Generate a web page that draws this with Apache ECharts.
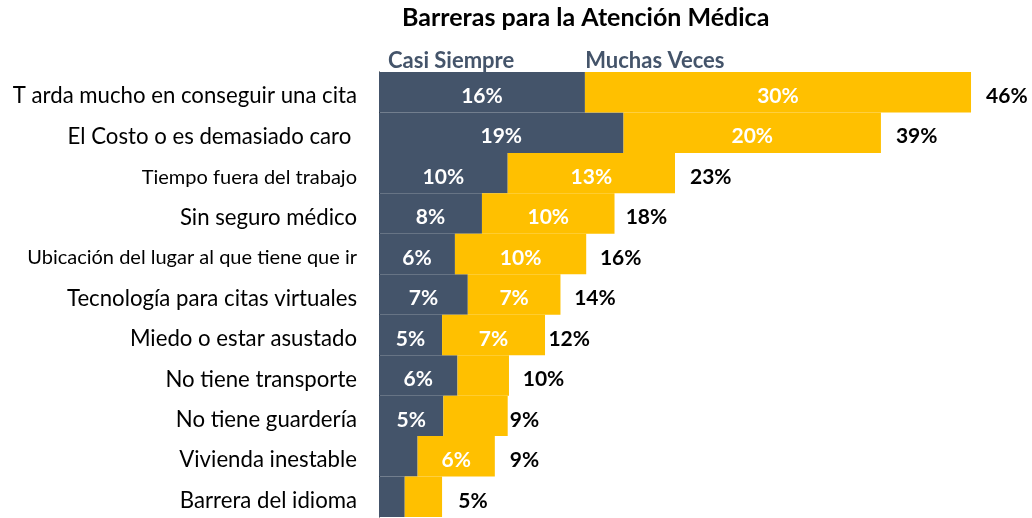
<!DOCTYPE html>
<html>
<head>
<meta charset="utf-8">
<script src="https://cdn.jsdelivr.net/npm/echarts@6/dist/echarts.min.js"></script>
<style>
  html, body { margin: 0; padding: 0; background: #fff; }
  #chart { width: 1032px; height: 518px; }
</style>
</head>
<body>
<div id="chart"></div>
<script>
const categories = [
  'T arda mucho en conseguir una cita',
  'El Costo o es demasiado caro ',
  'Tiempo fuera del trabajo',
  'Sin seguro médico',
  'Ubicación del lugar al que tiene que ir',
  'Tecnología para citas virtuales',
  'Miedo o estar asustado',
  'No tiene transporte',
  'No tiene guardería',
  'Vivienda inestable',
  'Barrera del idioma'
]
// categories drawn in a smaller font in the original
const smallLabels = ['Tiempo fuera del trabajo', 'Ubicación del lugar al que tiene que ir']

const casiSiempre = [16, 19, 10, 8, 5.9, 6.9, 4.9, 6.1, 5, 3, 2]
const muchasVeces = [30, 20, 13, 10.3, 10.2, 7.2, 8, 4, 5, 6, 2.9]
const totals = [46, 39, 23, 18, 16, 14, 12, 10, 9, 9, 5]
const casiLabels = ['16%', '19%', '10%', '8%', '6%', '7%', '5%', '6%', '5%', '', '']
const muchasLabels = ['30%', '20%', '13%', '10%', '10%', '7%', '7%', '', '', '6%', '']

const FONT = 'Lato, "Open Sans", sans-serif'
const DARK = '#44546A'
const GOLD = '#FFC000'

const chart = echarts.init(document.getElementById('chart'))

const option = {
  animation: false,
  title: {
    text: 'Barreras para la Atención Médica',
    left: 397,
    top: 0,
    textStyle: { color: '#000', fontSize: 25, fontWeight: 'bold', fontFamily: FONT }
  },
  legend: {
    left: 378,
    top: 45,
    icon: 'none',
    itemWidth: 0,
    itemGap: 66,
    selectedMode: false,
    data: [
      { name: 'Casi Siempre', textStyle: { color: DARK } },
      { name: 'Muchas Veces', textStyle: { color: DARK } }
    ],
    textStyle: { fontSize: 22, fontWeight: 'bold', fontFamily: FONT }
  },
  grid: { left: 379, top: 72, width: 643.5, height: 445, containLabel: false },
  xAxis: {
    type: 'value',
    min: 0,
    max: 50,
    show: false
  },
  yAxis: {
    type: 'category',
    inverse: true,
    data: categories,
    axisTick: { show: false },
    axisLine: { show: true, lineStyle: { color: '#000', width: 1 } },
    axisLabel: {
      color: '#000',
      fontFamily: FONT,
      margin: 22,
      formatter: v => (smallLabels.includes(v) ? '{s|' : '{b|') + v + '}',
      rich: {
        b: { fontSize: 22.2, fontFamily: FONT, color: '#000', padding: [8, 0, 0, 0] },
        s: { fontSize: 20, fontFamily: FONT, color: '#000', padding: [8, 0, 0, 0] }
      }
    }
  },
  series: [
    {
      name: 'Casi Siempre',
      type: 'bar',
      stack: 'total',
      barCategoryGap: 0,
      data: casiSiempre,
      itemStyle: { color: DARK },
      label: {
        show: true,
        position: 'inside',
        offset: [0, 4],
        color: '#fff',
        fontSize: 21,
        fontWeight: 'bold',
        fontFamily: FONT,
        formatter: p => casiLabels[p.dataIndex]
      }
    },
    {
      name: 'Muchas Veces',
      type: 'bar',
      stack: 'total',
      data: muchasVeces,
      itemStyle: { color: GOLD },
      label: {
        show: true,
        position: 'inside',
        offset: [0, 4],
        color: '#fff',
        fontSize: 21,
        fontWeight: 'bold',
        fontFamily: FONT,
        formatter: p => muchasLabels[p.dataIndex]
      }
    },
    {
      name: 'Total',
      type: 'bar',
      barGap: '-100%',
      data: totals,
      silent: true,
      z: 1,
      itemStyle: { color: 'rgba(0,0,0,0)' },
      label: {
        show: true,
        position: 'right',
        distance: 15,
        offset: [0, 4],
        color: '#000',
        fontSize: 21,
        fontWeight: 'bold',
        fontFamily: FONT,
        formatter: p => p.value + '%'
      }
    }
  ]
}

chart.setOption(option)
</script>
</body>
</html>
